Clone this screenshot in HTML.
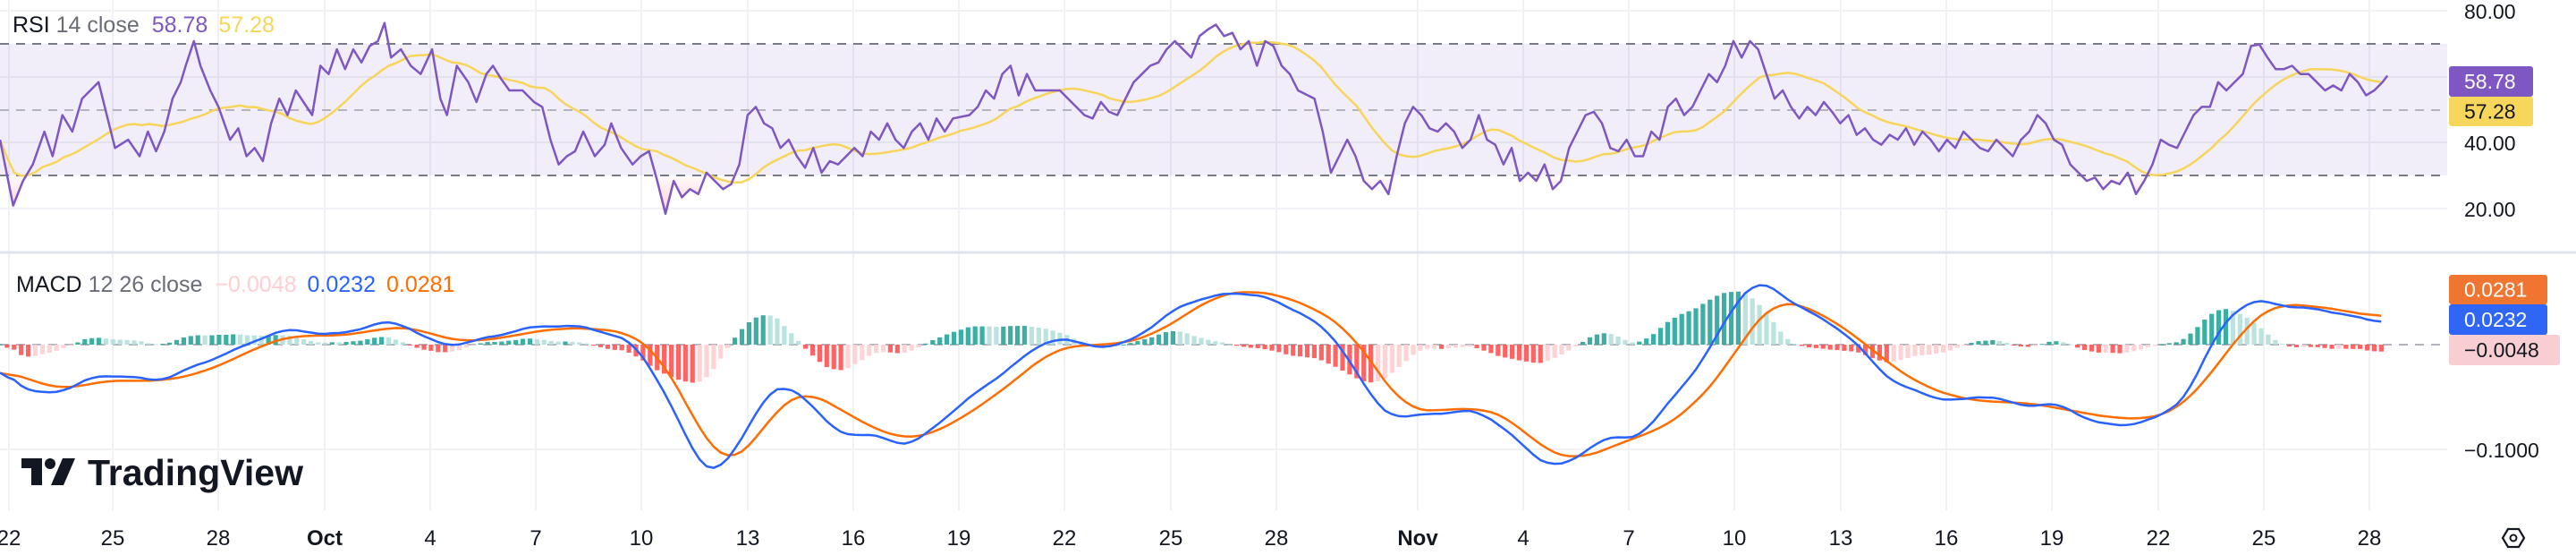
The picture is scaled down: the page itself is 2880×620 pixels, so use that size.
<!DOCTYPE html>
<html><head><meta charset="utf-8">
<style>
html,body{margin:0;padding:0;background:#fff;width:2880px;height:620px;overflow:hidden;}
svg{display:block;font-family:"Liberation Sans",sans-serif;}
</style></head>
<body>
<svg id="c" width="2880" height="620" viewBox="0 0 2880 620" xmlns="http://www.w3.org/2000/svg"></svg>
<script>
const S=1.837;
const rsiP=[[0,85],[8,125],[14,110],[20,100],[27,80],[32,95],[38,70],[44,80],[50,60],[55,55],[60,50],[65,70],[70,90],[78,85],[85,95],[90,80],[95,92],[100,80],[105,60],[110,50],[113,40],[118,25],[122,40],[128,55],[133,65],[140,85],[145,78],[150,95],[155,90],[160,98],[165,75],[170,60],[175,70],[180,55],[190,70],[195,40],[200,45],[205,30],[210,42],[215,30],[220,38],[225,28],[230,25],[234,14],[238,35],[244,30],[250,40],[256,45],[263,30],[268,60],[272,70],[278,40],[285,50],[290,62],[296,45],[300,40],[305,48],[310,55],[318,55],[325,62],[330,65],[335,85],[340,100],[345,95],[350,92],[355,80],[362,95],[368,88],[372,75],[378,90],[385,100],[390,95],[395,92],[400,110],[405,130],[410,110],[415,120],[420,115],[425,118],[430,105],[435,110],[440,115],[445,112],[450,100],[455,70],[460,65],[465,75],[470,78],[475,90],[480,85],[485,95],[490,102],[495,90],[500,105],[505,98],[510,100],[515,95],[520,90],[525,95],[530,80],[535,85],[540,75],[545,85],[550,90],[555,80],[560,75],[565,85],[570,72],[575,80],[580,72],[590,70],[595,65],[600,55],[605,60],[610,45],[615,40],[620,58],[625,45],[630,55],[640,55],[645,55],[655,65],[660,70],[665,72],[670,62],[675,68],[680,70],[685,60],[690,50],[695,45],[700,40],[705,38],[710,30],[715,25],[720,30],[725,35],[730,22],[735,18],[740,15],[745,22],[750,20],[755,30],[760,25],[765,40],[770,25],[775,28],[780,40],[785,45],[790,55],[800,60],[805,80],[810,105],[815,95],[820,85],[825,95],[830,110],[835,115],[840,110],[845,118],[850,95],[855,75],[860,65],[865,70],[870,78],[875,80],[880,75],[885,80],[890,90],[895,85],[900,70],[905,85],[910,88],[915,100],[920,90],[925,110],[930,105],[935,110],[940,100],[945,115],[950,110],[955,90],[960,80],[965,70],[970,68],[975,75],[980,90],[985,92],[990,85],[995,95],[1000,95],[1005,80],[1010,85],[1015,65],[1020,60],[1025,70],[1030,65],[1035,55],[1040,45],[1045,50],[1050,40],[1055,25],[1060,35],[1065,25],[1070,30],[1075,45],[1080,60],[1085,55],[1090,65],[1095,72],[1100,65],[1105,70],[1110,62],[1115,68],[1120,75],[1125,70],[1130,82],[1135,78],[1140,85],[1145,88],[1150,82],[1155,85],[1160,78],[1165,88],[1170,80],[1175,85],[1180,92],[1185,85],[1190,90],[1195,80],[1200,85],[1205,90],[1210,92],[1215,85],[1220,90],[1225,95],[1230,85],[1235,80],[1240,70],[1245,75],[1250,85],[1255,88],[1260,100],[1265,105],[1270,110],[1275,108],[1280,115],[1285,110],[1290,112],[1295,105],[1300,118],[1305,110],[1310,100],[1315,85],[1320,88],[1325,90],[1330,80],[1335,70],[1340,65],[1345,65],[1350,50],[1355,55],[1360,50],[1365,45],[1370,28],[1375,27],[1380,35],[1385,42],[1390,42],[1395,40],[1400,45],[1405,45],[1410,50],[1415,55],[1420,52],[1425,55],[1430,45],[1435,50],[1440,58],[1445,55],[1450,50],[1453,46]];
const blueP=[[0,220],[10,235],[20,240],[40,238],[60,228],[80,230],[100,232],[120,222],[140,215],[160,205],[180,200],[200,205],[220,200],[240,195],[255,203],[265,210],[280,210],[300,205],[320,200],[340,198],[360,200],[385,208],[400,230],[410,250],[420,272],[428,285],[435,290],[440,285],[450,270],[460,252],[465,240],[475,235],[490,240],[505,262],[520,265],[535,265],[550,272],[560,268],[580,250],[600,235],[620,220],[640,205],[660,210],[680,212],[700,200],[720,185],[740,180],[760,178],[780,185],[800,195],[820,215],[835,245],[850,255],[870,252],[900,250],[915,260],[930,275],[945,285],[960,280],[975,265],[985,268],[1000,265],[1020,240],[1040,215],[1055,185],[1070,170],[1085,180],[1100,190],[1120,200],[1135,215],[1150,232],[1170,240],[1190,245],[1210,240],[1230,248],[1250,245],[1270,255],[1285,260],[1300,258],[1320,252],[1335,235],[1350,200],[1365,185],[1380,183],[1395,188],[1410,188],[1420,190],[1440,195],[1453,196]];
const orP=[[0,225],[20,232],[40,238],[60,232],[80,232],[100,232],[120,228],[140,220],[160,210],[180,204],[200,205],[220,203],[240,199],[255,200],[265,205],[280,208],[300,207],[320,203],[340,200],[360,200],[385,203],[400,215],[415,240],[430,270],[440,283],[450,280],[460,268],[475,245],[490,238],[505,245],[520,255],[535,262],[550,268],[565,265],[580,258],[600,245],[620,230],[640,213],[660,210],[680,210],[700,205],[720,193],[740,180],[760,177],[780,180],[800,188],[820,200],[840,228],[855,250],[880,250],[900,248],[920,255],[940,275],[960,280],[975,275],[990,268],[1010,262],[1030,248],[1050,225],[1065,200],[1080,183],[1095,185],[1110,192],[1130,205],[1150,222],[1170,235],[1190,242],[1210,245],[1230,245],[1250,248],[1270,252],[1290,255],[1310,255],[1325,250],[1340,235],[1355,215],[1370,195],[1385,185],[1400,186],[1420,188],[1440,192],[1453,194]];
function interp(P,x){ if(x<=P[0][0])return P[0][1]; for(let i=1;i<P.length;i++){ if(x<=P[i][0]){const t=(x-P[i-1][0])/(P[i][0]-P[i-1][0]);return P[i-1][1]+t*(P[i][1]-P[i-1][1]);}} return P[P.length-1][1];}
const step=7.9, xEnd=2668;
const xs=[]; for(let x=0;x<=xEnd;x+=step) xs.push(x);
const ry=rsiP.map(p=>[p[0]*S,p[1]*S]);
const rsiPath=ry.map((p,i)=>(i?'L':'M')+p[0].toFixed(1)+' '+p[1].toFixed(1)).join('');
const samp=xs.map(x=>interp(ry,x));
const ma=samp.map((v,i)=>{let s=0,n=0;for(let k=Math.max(0,i-13);k<=i;k++){s+=samp[k];n++;}return s/n;});
const maPath=xs.map((x,i)=>(i?'L':'M')+x.toFixed(1)+' '+ma[i].toFixed(1)).join('');
const Z=385;
function mapM(P){return P.map(p=>[p[0]*S, Z+(p[1]-210)*S]);}
const bP=mapM(blueP), oP=mapM(orP);
function smooth(arr,w){return arr.map((v,i)=>{let s=0,n=0;for(let k=i-w;k<=i+w;k++){if(k>=0&&k<arr.length){s+=arr[k];n++;}}return s/n;});}
let bv=xs.map((x,i)=>interp(bP,x)+2.2*Math.sin(i*0.9)+1.5*Math.sin(i*2.3));
bv=smooth(bv,2);
let ov=smooth(xs.map(x=>interp(oP,x)),3);
const lp=(v)=>xs.map((x,i)=>(i?'L':'M')+x.toFixed(1)+' '+v[i].toFixed(1)).join('');
let bars=''; let prev=0;
xs.forEach((x,i)=>{const h=(ov[i]-bv[i])*1.15; let c;
 if(h>=0) c=(h>=prev)?'#26a69a':'#b2dfdb'; else c=(h<=prev)?'#ff5252':'#ffcdd2';
 prev=h; const y=h>=0?Z-h:Z; bars+=`<rect x="${(x-2.6).toFixed(1)}" y="${y.toFixed(1)}" width="5.2" height="${Math.max(1,Math.abs(h)).toFixed(1)}" fill="${c}" opacity="0.9"/>`;});
const dates=[["22",10],["25",126],["28",244],["Oct",363,1],["4",481],["7",599],["10",717],["13",836],["16",954],["19",1072],["22",1190],["25",1309],["28",1427],["Nov",1585,1],["4",1703],["7",1821],["10",1939],["13",2058],["16",2176],["19",2294],["22",2413],["25",2531],["28",2649]];
let g='';
dates.forEach(d=>{g+=`<line x1="${d[1]}" y1="0" x2="${d[1]}" y2="570" stroke="#f0f1f4" stroke-width="2"/>`;});
[12,86,159,233,502].forEach(y=>{g+=`<line x1="0" y1="${y}" x2="2736" y2="${y}" stroke="#f0f1f4" stroke-width="2"/>`;});
let s=g;
s+=`<rect x="0" y="49" width="2736" height="147" fill="#7e57c2" fill-opacity="0.1"/>`;
s+=`<defs><clipPath id="lo"><rect x="0" y="196" width="2736" height="90"/></clipPath>
<linearGradient id="rg" x1="0" y1="196" x2="0" y2="260" gradientUnits="userSpaceOnUse"><stop offset="0" stop-color="#f23645" stop-opacity="0.02"/><stop offset="1" stop-color="#f23645" stop-opacity="0.35"/></linearGradient></defs>`;
s+=`<path d="${rsiPath}L${ry[ry.length-1][0]} 196L0 196Z" fill="url(#rg)" clip-path="url(#lo)"/>`;
s+=`<line x1="0" y1="49" x2="2736" y2="49" stroke="#787b86" stroke-width="2" stroke-dasharray="10 8"/>`;
s+=`<line x1="0" y1="123" x2="2736" y2="123" stroke="#b2b5be" stroke-width="2" stroke-dasharray="10 8"/>`;
s+=`<line x1="0" y1="196" x2="2736" y2="196" stroke="#787b86" stroke-width="2" stroke-dasharray="10 8"/>`;
s+=`<path d="${maPath}" fill="none" stroke="#f7d55a" stroke-width="2.5"/>`;
s+=`<path d="${rsiPath}" fill="none" stroke="#7e57c2" stroke-width="2.5" stroke-linejoin="round"/>`;
s+=`<line x1="0" y1="282" x2="2880" y2="282" stroke="#e0e3eb" stroke-width="3"/>`;
s+=`<line x1="0" y1="385" x2="2736" y2="385" stroke="#b2b5be" stroke-width="2" stroke-dasharray="10 8"/>`;
s+=bars;
s+=`<path d="${lp(ov)}" fill="none" stroke="#ff6d00" stroke-width="2.5"/>`;
s+=`<path d="${lp(bv)}" fill="none" stroke="#2962ff" stroke-width="2.5"/>`;
s+=`<text x="14" y="36" font-size="25" fill="#131722">RSI <tspan fill="#6a6d78">14 close</tspan><tspan fill="#7e57c2" dx="14">58.78</tspan><tspan fill="#f7d55a" dx="12">57.28</tspan></text>`;
s+=`<text x="18" y="326" font-size="25" fill="#131722">MACD <tspan fill="#6a6d78">12 26 close</tspan><tspan fill="#ffcdd2" dx="14">−0.0048</tspan><tspan fill="#2962ff" dx="12">0.0232</tspan><tspan fill="#ff6d00" dx="12">0.0281</tspan></text>`;
[["80.00",13],["40.00",160],["20.00",234],["−0.1000",503]].forEach(a=>{s+=`<text x="2755" y="${a[1]+8}" font-size="23" fill="#131722">${a[0]}</text>`;});
function tag(y,h,w,bg,fg,t){s+=`<rect x="2738" y="${y}" width="${w}" height="${h}" rx="3" fill="${bg}"/><text x="2755" y="${y+h/2+8}" font-size="23" fill="${fg}">${t}</text>`;}
tag(74,34,94,"#7e57c2","#fff","58.78");
tag(108,33,94,"#f7d65c","#131722","57.28");
tag(307,33,110,"#f07530","#fff","0.0281");
tag(340,34,110,"#2f66f6","#fff","0.0232");
tag(374,34,124,"#f8ced3","#131722","−0.0048");
dates.forEach(d=>{s+=`<text x="${d[1]}" y="609" font-size="24" text-anchor="middle" fill="#131722" ${d[2]?'font-weight="bold"':''}>${d[0]}</text>`;});
s+=`<polygon points="2798,601 2804,591 2816,591 2822,601 2816,611 2804,611" fill="none" stroke="#131722" stroke-width="2.2"/><circle cx="2810" cy="601" r="3.5" fill="none" stroke="#131722" stroke-width="2"/>`;
s+=`<g fill="#131722"><path d="M24 512h23v30h-12v-19h-11z"/><circle cx="56" cy="518" r="6"/><path d="M70 512h14l-13 30h-14z"/></g>`;
s+=`<text x="98" y="542" font-size="41" font-weight="bold" fill="#131722" textLength="241" lengthAdjust="spacingAndGlyphs">TradingView</text>`;
document.getElementById('c').innerHTML=s;
</script>
</body></html>
